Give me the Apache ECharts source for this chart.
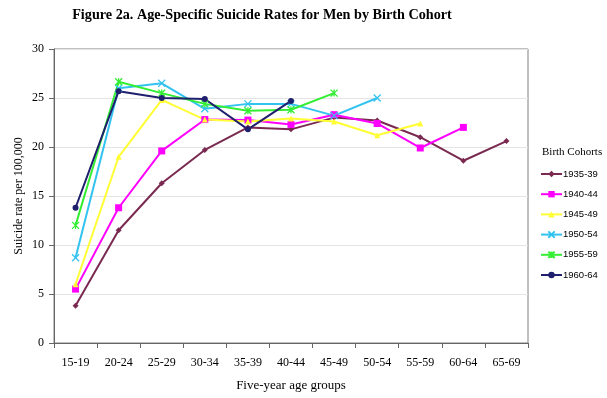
<!DOCTYPE html>
<html>
<head>
<meta charset="utf-8">
<script src="https://cdn.jsdelivr.net/npm/echarts@6/dist/echarts.min.js"></script>
<style>html,body{margin:0;padding:0;background:#fff}#c{width:607px;height:398px}</style>
</head>
<body>
<div id="c"></div>
<script>
var categories = ['15-19','20-24','25-29','30-34','35-39','40-44','45-49','50-54','55-59','60-64','65-69'];
var cohorts = ['1935-39','1940-44','1945-49','1950-54','1955-59','1960-64'];
var c1935 = [3.8, 11.5, 16.3, 19.7, 22.0, 21.8, 23.0, 22.7, 21.0, 18.6, 20.6];
var c1940 = [5.5, 13.8, 19.6, 22.8, 22.75, 22.3, 23.3, 22.4, 19.9, 22.0, null];
var c1945 = [6.0, 19.0, 24.8, 22.8, 22.6, 22.9, 22.6, 21.2, 22.4, null, null];
var c1950 = [8.7, 26.0, 26.5, 23.9, 24.4, 24.4, 23.2, 25.0, null, null, null];
var c1955 = [12.0, 26.65, 25.5, 24.4, 23.7, 23.8, 25.5, null, null, null, null];
var c1960 = [13.8, 25.7, 25.0, 24.9, 21.8, 24.7, null, null, null, null, null];
var yTicks = [0, 5, 10, 15, 20, 25, 30];

var colors = ['#7A2A50', '#FF00FF', '#FFFF33', '#33C3F0', '#33EE33', '#1F1F6E'];
var symbols = ['diamond', 'rect', 'triangle', 'path://M0,0L10,10M10,0L0,10', 'path://M0,0L10,10M10,0L0,10M5,0L5,10', 'circle'];
var sizes = [6, 7, 6, 7, 7, 6];
var dataSets = [c1935, c1940, c1945, c1950, c1955, c1960];

var series = cohorts.map(function (name, i) {
  return {
    name: name,
    type: 'line',
    data: dataSets[i],
    symbol: symbols[i],
    symbolSize: sizes[i],
    showAllSymbol: true,
    connectNulls: false,
    lineStyle: { color: colors[i], width: 2 },
    itemStyle: { color: colors[i], borderColor: colors[i], borderWidth: (i === 3 || i === 4) ? 1.3 : 0 },
    emphasis: { disabled: true },
    animation: false
  };
});

var chart = echarts.init(document.getElementById('c'), null, { renderer: 'canvas' });
chart.setOption({
  backgroundColor: '#fff',
  animation: false,
  title: [{
    text: 'Figure 2a. Age-Specific Suicide Rates for Men by Birth Cohort',
    left: 257, top: 3, textAlign: 'center',
    textStyle: { fontFamily: 'Liberation Serif', fontWeight: 'bold', fontSize: 14.2, color: '#000' }
  }, {
    text: 'Birth Cohorts',
    left: 542, top: 147, padding: 0,
    textStyle: { fontFamily: 'Liberation Serif', fontWeight: 'normal', fontSize: 11, color: '#000' }
  }],
  legend: {
    orient: 'vertical',
    left: 540, top: 169, padding: 0,
    itemWidth: 21, itemHeight: 8, itemGap: 10.2,
    textStyle: { fontFamily: 'Liberation Sans', fontSize: 9.5, lineHeight: 10, color: '#000', padding: [0, 0, 0, -4] },
    data: cohorts,
    selectedMode: false
  },
  grid: { left: 54, right: 79, top: 49, bottom: 55, show: true, borderColor: '#808080', borderWidth: 1 },
  xAxis: {
    type: 'category',
    data: categories,
    boundaryGap: true,
    name: 'Five-year age groups',
    nameLocation: 'middle', nameGap: 36,
    nameTextStyle: { fontFamily: 'Liberation Serif', fontSize: 13, color: '#000' },
    axisLine: { lineStyle: { color: '#666', width: 1 } },
    axisTick: { show: true, length: 5, lineStyle: { color: '#666' } },
    axisLabel: { fontFamily: 'Liberation Serif', fontSize: 12, color: '#000', margin: 14, interval: 0 }
  },
  yAxis: {
    type: 'value',
    min: 0, max: 30, interval: 5,
    name: 'Suicide rate per 100,000',
    nameLocation: 'middle', nameGap: 29, nameMoveOverlap: false,
    nameTextStyle: { fontFamily: 'Liberation Serif', fontSize: 12, color: '#000' },
    axisLine: { show: true, lineStyle: { color: '#666', width: 1 } },
    axisTick: { show: true, length: 5, inside: false, lineStyle: { color: '#666' } },
    axisLabel: {
      fontFamily: 'Liberation Serif', fontSize: 12, color: '#000', margin: 10,
      formatter: function (v) { return yTicks.indexOf(v) >= 0 ? String(v) : ''; }
    },
    splitLine: { show: true, lineStyle: { color: '#E4E4E4', width: 1 } }
  },
  series: series
});
</script>
</body>
</html>
